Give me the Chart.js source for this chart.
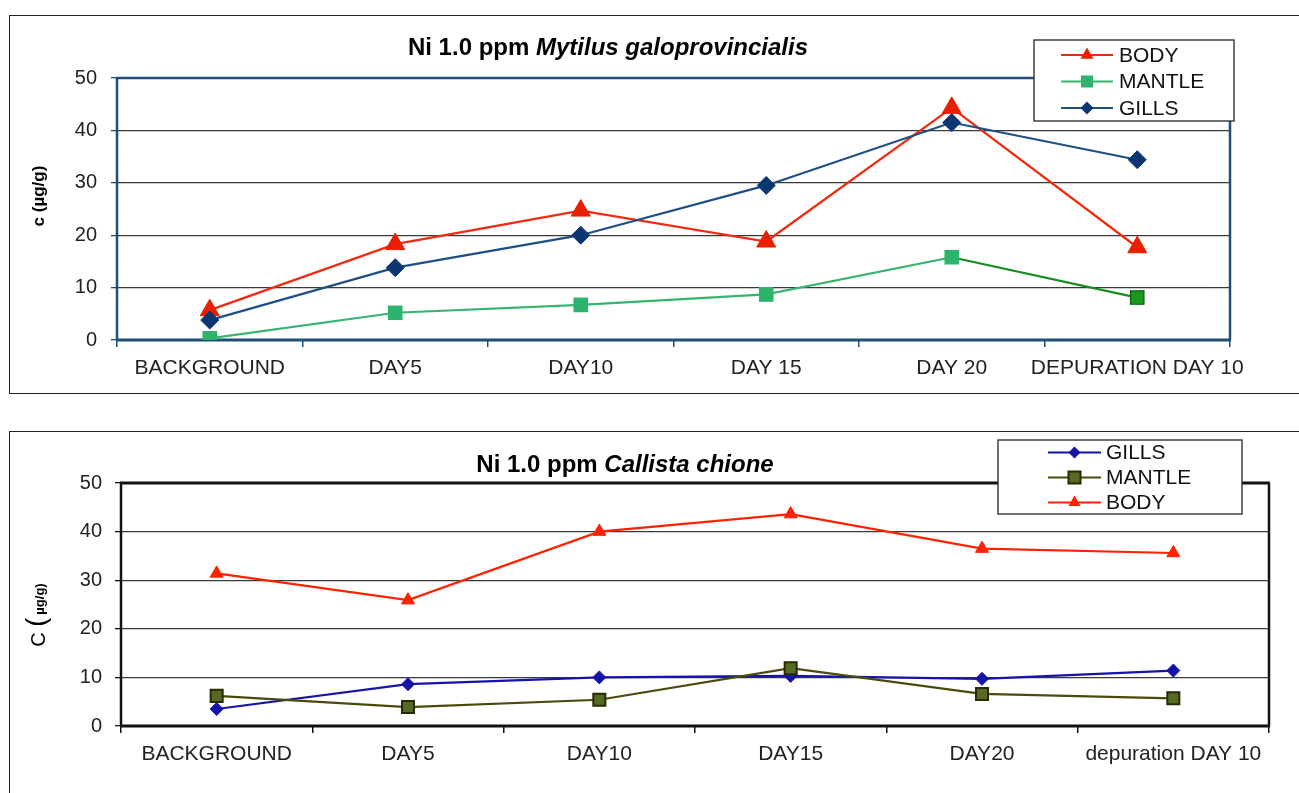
<!DOCTYPE html>
<html><head><meta charset="utf-8">
<script src="https://cdn.jsdelivr.net/npm/chart.js@4/dist/chart.umd.min.js"></script>
<style>
html,body{margin:0;padding:0;background:#fff;width:1299px;height:793px;overflow:hidden;position:relative;font-family:"Liberation Sans",Arial,sans-serif}
.frame{position:absolute;border:1.5px solid #222;box-sizing:border-box}
#f1{left:9px;top:15px;width:1310px;height:379px}
#f2{left:9px;top:431px;width:1310px;height:400px}
.wrap{position:absolute;left:0;width:1299px}
#w1{top:0;height:400px}
#w2{top:420px;height:373px}
</style></head>
<body>
<div class="frame" id="f1"></div><div class="frame" id="f2"></div>
<div class="wrap" id="w1"><canvas id="c1"></canvas></div>
<div class="wrap" id="w2"><canvas id="c2"></canvas></div>
<script>
// ---- data ----
const categories1 = ["BACKGROUND", "DAY5", "DAY10", "DAY 15", "DAY 20", "DEPURATION DAY 10"];
const body1   = [5.7, 18.3, 24.7, 18.8, 44.3, 17.7];
const mantle1 = [0.3, 5.2, 6.7, 8.7, 15.8, 8.1];
const gills1  = [3.8, 13.8, 20.0, 29.5, 41.5, 34.4];

const categories2 = ["BACKGROUND", "DAY5", "DAY10", "DAY15", "DAY20", "depuration DAY 10"];
const gills2  = [3.5, 8.6, 10.0, 10.3, 9.7, 11.4];
const mantle2 = [6.2, 3.9, 5.4, 11.9, 6.6, 5.7];
const body2   = [31.4, 25.9, 40.0, 43.6, 36.5, 35.6];

const yMin = 0, yMax = 50, yStep = 10;

const FONT = '"Liberation Sans", Arial, sans-serif';

function marker(ctx, style, x, y, r, fill, stroke, bw){
  ctx.save();
  ctx.beginPath();
  if (style === 'triangle'){
    ctx.moveTo(x, y - r);
    ctx.lineTo(x + r*Math.sqrt(3)/2, y + r/2);
    ctx.lineTo(x - r*Math.sqrt(3)/2, y + r/2);
    ctx.closePath();
  } else if (style === 'rect'){
    const s = r*Math.SQRT1_2;
    ctx.rect(x - s, y - s, 2*s, 2*s);
  } else {
    ctx.moveTo(x, y - r); ctx.lineTo(x + r, y); ctx.lineTo(x, y + r); ctx.lineTo(x - r, y); ctx.closePath();
  }
  ctx.fillStyle = fill; ctx.fill();
  if (bw){ ctx.lineWidth = bw; ctx.strokeStyle = stroke; ctx.stroke(); }
  ctx.restore();
}

function makeDeco(cfg){
  return {
    id: 'deco',
    beforeDatasetsDraw(chart){
      const {ctx, chartArea: a} = chart;
      const b = cfg.border;
      ctx.save();
      ctx.strokeStyle = b.color;
      const seg = (x1,y1,x2,y2,w)=>{ctx.lineWidth=w;ctx.beginPath();ctx.moveTo(x1,y1);ctx.lineTo(x2,y2);ctx.stroke();};
      seg(a.left-1, a.top, a.right+1, a.top, b.top);
      seg(a.left, a.top, a.left, a.bottom, b.left);
      seg(a.right, a.top, a.right, a.bottom, b.right);
      seg(a.left-1, a.bottom, a.right+1, a.bottom, b.bottom);
      ctx.restore();
    },
    afterDraw(chart){
      const ctx = chart.ctx;
      ctx.save();
      // title
      ctx.textBaseline = 'alphabetic';
      ctx.fillStyle = '#000';
      let tw = 0;
      cfg.title.parts.forEach(p=>{ctx.font = p.font + ' ' + FONT; tw += ctx.measureText(p.text).width;});
      let x = cfg.title.x - tw/2;
      cfg.title.parts.forEach(p=>{ctx.font = p.font + ' ' + FONT; ctx.fillText(p.text, x, cfg.title.y); x += ctx.measureText(p.text).width;});
      // y title
      ctx.save();
      ctx.translate(cfg.ytitle.x, cfg.ytitle.y);
      ctx.rotate(-Math.PI/2);
      let yw = 0;
      cfg.ytitle.parts.forEach(p=>{ctx.font = p.font + ' ' + FONT; yw += ctx.measureText(p.text).width + (p.gap||0);});
      let yx = -yw/2;
      cfg.ytitle.parts.forEach(p=>{ctx.font = p.font + ' ' + FONT; ctx.fillText(p.text, yx, p.dy||0); yx += ctx.measureText(p.text).width + (p.gap||0);});
      ctx.restore();
      // legend
      const L = cfg.legend;
      ctx.fillStyle = '#fff';
      ctx.fillRect(L.x, L.y, L.w, L.h);
      ctx.strokeStyle = '#222'; ctx.lineWidth = 1.3;
      ctx.strokeRect(L.x, L.y, L.w, L.h);
      ctx.font = L.font + ' ' + FONT;
      ctx.textBaseline = 'middle';
      L.items.forEach((it, i)=>{
        const ds = chart.data.datasets[it.ds];
        const yy = L.firstY + i*L.gap;
        ctx.strokeStyle = ds.borderColor; ctx.lineWidth = 2.2;
        ctx.beginPath(); ctx.moveTo(L.lx1, yy); ctx.lineTo(L.lx2, yy); ctx.stroke();
        marker(ctx, ds.pointStyle, (L.lx1+L.lx2)/2, yy, it.r, it.fill, it.stroke, it.bw);
        ctx.fillStyle = '#111';
        ctx.fillText(ds.label, L.tx, yy + 1);
      });
      ctx.restore();
    }
  };
}

function axes(cfg){
  return {
    x: {
      offset: true,
      grid: {offset: true, drawOnChartArea: false, drawTicks: true, tickLength: 7, color: cfg.axisColor, lineWidth: 1.5},
      border: {display: false},
      ticks: {color: '#222', font: {family: FONT, size: 21}, padding: 9, autoSkip: false, maxRotation: 0, minRotation: 0},
      afterFit(s){ s.height = cfg.xh; }
    },
    y: {
      min: yMin, max: yMax,
      grid: {color: cfg.gridColor, lineWidth: 1.3, tickLength: 6, tickColor: cfg.axisColor, drawTicks: true},
      border: {display: false},
      ticks: {stepSize: yStep, color: '#222', font: {family: FONT, size: 20}, padding: cfg.ypad},
      afterFit(s){ s.width = cfg.yw; }
    }
  };
}

// ---- chart 1 ----
const blue1 = '#1f4e79';
new Chart(document.getElementById('c1'), {
  type: 'line',
  data: {
    labels: categories1,
    datasets: [
      {label: 'GILLS', data: gills1, borderColor: '#1d4f85', backgroundColor: '#0c3672', borderWidth: 2.2,
       pointStyle: 'rectRot', pointRadius: 9, pointBackgroundColor: '#0c3672', pointBorderColor: '#0c3672', pointBorderWidth: 1},
      {label: 'BODY', data: body1, borderColor: '#f02a10', backgroundColor: '#e82000', borderWidth: 2.2,
       pointStyle: 'triangle', pointRadius: 11, pointBackgroundColor: '#e82000', pointBorderColor: '#e82000', pointBorderWidth: 1},
      {label: 'MANTLE', data: mantle1, borderColor: '#35b56f', backgroundColor: '#2db46c', borderWidth: 2.2,
       segment: {borderColor: c => c.p1DataIndex === mantle1.length - 1 ? '#178c1f' : '#35b56f'},
       pointStyle: 'rect', pointRadius: 9.5,
       pointBackgroundColor: c => c.dataIndex === mantle1.length - 1 ? '#179a1d' : '#2db46c',
       pointBorderColor: c => c.dataIndex === mantle1.length - 1 ? '#0b5a0e' : '#2db46c', pointBorderWidth: 1.2}
    ]
  },
  options: {
    responsive: true, maintainAspectRatio: false, animation: false,
    layout: {padding: {top: 78, right: 69, left: 0, bottom: 0}},
    plugins: {legend: {display: false}, title: {display: false}, tooltip: {enabled: false}},
    scales: axes({axisColor: blue1, gridColor: '#3a3a3a', xh: 60, yw: 117, ypad: 14})
  },
  plugins: [makeDeco({
    border: {color: blue1, top: 2.5, left: 2.5, right: 2.5, bottom: 3},
    title: {x: 608, y: 55, parts: [{text: 'Ni 1.0 ppm ', font: 'bold 24px'}, {text: 'Mytilus galoprovincialis', font: 'italic bold 24px'}]},
    ytitle: {x: 44, y: 196, parts: [{text: 'c (µg/g)', font: 'bold 17px'}]},
    legend: {x: 1034, y: 40, w: 200, h: 81, font: '21px', firstY: 55, gap: 26.5, lx1: 1061, lx2: 1113, tx: 1119,
      items: [
        {ds: 1, r: 7.5, fill: '#e82000', stroke: '#e82000', bw: 0},
        {ds: 2, r: 8.5, fill: '#2db46c', stroke: '#2db46c', bw: 0},
        {ds: 0, r: 6.5, fill: '#0c3672', stroke: '#0c3672', bw: 0}
      ]}
  })]
});

// ---- chart 2 ----
new Chart(document.getElementById('c2'), {
  type: 'line',
  data: {
    labels: categories2,
    datasets: [
      {label: 'MANTLE', data: mantle2, borderColor: '#4a4a0c', backgroundColor: '#566a22', borderWidth: 2.2,
       pointStyle: 'rect', pointRadius: 8.5, pointBackgroundColor: '#566a22', pointBorderColor: '#2a2a00', pointBorderWidth: 2},
      {label: 'GILLS', data: gills2, borderColor: '#1414a8', backgroundColor: '#1414a8', borderWidth: 2.2,
       pointStyle: 'rectRot', pointRadius: 6.5, pointBackgroundColor: '#1414a8', pointBorderColor: '#1414a8', pointBorderWidth: 1},
      {label: 'BODY', data: body2, borderColor: '#ff2200', backgroundColor: '#ff2200', borderWidth: 2.2,
       pointStyle: 'triangle', pointRadius: 7.5, pointBackgroundColor: '#ff2200', pointBorderColor: '#ff2200', pointBorderWidth: 1}
    ]
  },
  options: {
    responsive: true, maintainAspectRatio: false, animation: false,
    layout: {padding: {top: 63, right: 30, left: 0, bottom: 0}},
    plugins: {legend: {display: false}, title: {display: false}, tooltip: {enabled: false}},
    scales: axes({axisColor: '#111', gridColor: '#3a3a3a', xh: 67, yw: 121, ypad: 13})
  },
  plugins: [makeDeco({
    border: {color: '#111', top: 3, left: 2.5, right: 2.5, bottom: 3},
    title: {x: 625, y: 52, parts: [{text: 'Ni 1.0 ppm ', font: 'bold 24px'}, {text: 'Callista chione', font: 'italic bold 24px'}]},
    ytitle: {x: 45, y: 195, parts: [{text: 'C ', font: '20px'}, {text: '(', font: '27px', gap: 3}, {text: 'µg/g)', font: 'bold 13px', dy: -1}]},
    legend: {x: 998, y: 20, w: 244, h: 74, font: '21px', firstY: 32.5, gap: 25, lx1: 1048, lx2: 1101, tx: 1106,
      items: [
        {ds: 1, r: 6, fill: '#1414a8', stroke: '#1414a8', bw: 0},
        {ds: 0, r: 8.5, fill: '#566a22', stroke: '#2a2a00', bw: 2},
        {ds: 2, r: 7, fill: '#ff2200', stroke: '#ff2200', bw: 0}
      ]}
  })]
});
</script>
</body></html>
